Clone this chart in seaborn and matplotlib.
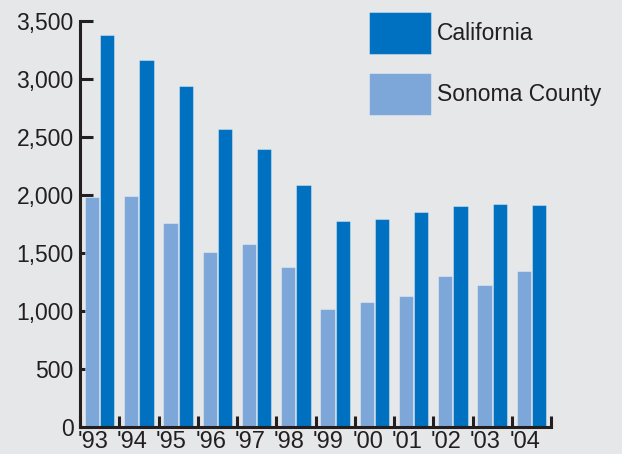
import matplotlib
matplotlib.use("Agg")
import matplotlib.pyplot as plt
import matplotlib.ticker as mticker
import numpy as np
import pandas as pd
import seaborn as sns

# Annual values, 1993-2004
years = ["'93", "'94", "'95", "'96", "'97", "'98", "'99", "'00", "'01", "'02", "'03", "'04"]
california = [3380, 3160, 2940, 2570, 2395, 2085, 1772, 1790, 1855, 1900, 1918, 1910]
sonoma = [1984, 1990, 1760, 1510, 1579, 1381, 1014, 1080, 1128, 1301, 1223, 1347]
series_order = ["Sonoma County", "California"]
legend_order = ["California", "Sonoma County"]
y_ticks = [0, 500, 1000, 1500, 2000, 2500, 3000, 3500]

BG = "#e6e7e8"
INK = "#231f20"
palette = {"California": "#0070c0", "Sonoma County": "#7da7d9"}

df = pd.DataFrame({
    "year": years * 2,
    "value": sonoma + california,
    "region": ["Sonoma County"] * len(years) + ["California"] * len(years),
})

sns.set_style("white")
plt.rcParams["font.family"] = ["Liberation Sans", "DejaVu Sans"]
NARROW = ["Liberation Sans Narrow", "Liberation Sans", "DejaVu Sans"]

fig = plt.figure(figsize=(6.22, 4.54), dpi=100, facecolor=BG)
ax = fig.add_axes([80 / 622, 1 - 427 / 454, (551 - 80) / 622, (427 - 20.7) / 454])
ax.set_facecolor(BG)

sns.barplot(data=df, x="year", y="value", hue="region", order=years,
            hue_order=series_order, palette=palette, width=0.78, gap=0.08,
            saturation=1, edgecolor=(1, 1, 1, 0.35), linewidth=0.8,
            errorbar=None, ax=ax)

ax.set_axisbelow(True)
ax.set_xlim(-0.5, len(years) - 0.5)
ax.set_ylim(0, 3500)
ax.set_xlabel("")
ax.set_ylabel("")

# y axis: thick inward ticks with comma-formatted labels
ax.set_yticks(y_ticks)
ax.yaxis.set_major_formatter(mticker.FuncFormatter(lambda v, p: f"{int(v):,}"))
ax.tick_params(axis="y", direction="in", length=9.4, width=2.2, color=INK,
               labelsize=16.5, labelcolor=INK, pad=4.5, left=True)

# x axis: separator ticks between years, labels under each year
ax.set_xticks(np.arange(len(years)) - 0.17)
ax.set_xticklabels(years, family=NARROW, fontsize=17)
ax.set_xticks(np.arange(len(years) + 1) - 0.5, minor=True)
ax.tick_params(axis="x", which="major", length=0, labelcolor=INK, pad=3)
ax.tick_params(axis="x", which="minor", direction="in", length=8, width=2.2,
               color=INK, bottom=True)

for side in ("top", "right"):
    ax.spines[side].set_visible(False)
for side in ("left", "bottom"):
    ax.spines[side].set_color(INK)
    ax.spines[side].set_linewidth(2.2)

handles, labels = ax.get_legend_handles_labels()
lookup = dict(zip(labels, handles))
ax.legend([lookup[k] for k in legend_order], legend_order,
          loc="upper left", bbox_to_anchor=(369 / 622, 1 - 12 / 454),
          bbox_transform=fig.transFigure, frameon=False, fontsize=16.5,
          handlelength=2.7, handleheight=2.44, handletextpad=0.26,
          labelspacing=0.83, borderpad=0, borderaxespad=0,
          labelcolor=INK)

fig.savefig("out.png", dpi=100, facecolor=BG)
